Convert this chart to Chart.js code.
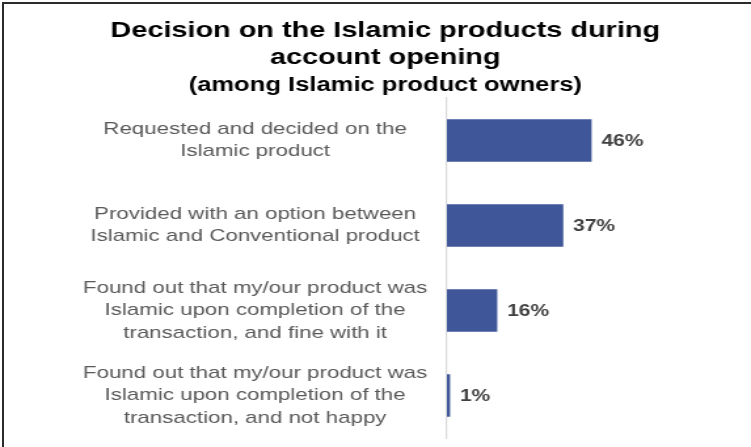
<!DOCTYPE html>
<html>
<head>
<meta charset="utf-8">
<script src="https://cdn.jsdelivr.net/npm/chart.js@4.4.0/dist/chart.umd.min.js"></script>
<style>
  body { margin: 0; background: #fff; overflow: hidden; }
  #wrap { position: relative; width: 751px; height: 447px; }
  /* o original está esticado na horizontal */
  #chart { position: absolute; left: 0; top: 0; transform: scaleX(1.3106); transform-origin: 0 0; }
  #frame { position: absolute; left: 2px; top: 2px; right: 0; bottom: 0;
           border-top: 2px solid #2b2b2b; border-left: 2px solid #2b2b2b; pointer-events: none; }
</style>
</head>
<body>
<div id="wrap">
  <canvas id="chart" width="573" height="447"></canvas>
  <div id="frame"></div>
</div>
<script>
// categorias (linhas quebradas como no original)
const categories = [
    ['Requested and decided on the', 'Islamic product'],
    ['Provided with an option between', 'Islamic and Conventional product'],
    ['Found out that my/our product was', 'Islamic upon completion of the', 'transaction, and fine with it'],
    ['Found out that my/our product was', 'Islamic upon completion of the', 'transaction, and not happy']
];
const shares = [46, 37, 16, 1];
const titleLines = ['Decision on the Islamic products during', 'account opening'];
const subtitleText = '(among Islamic product owners)';

const FONT = '"Liberation Sans", Arial, sans-serif';

// rótulos de valor ao lado das barras
const valueLabels = {
    id: 'valueLabels',
    afterDatasetsDraw(chart) {
        const ctx = chart.ctx;
        const meta = chart.getDatasetMeta(0);
        ctx.save();
        ctx.font = 'bold 16px ' + FONT;
        ctx.fillStyle = '#404040';
        ctx.textAlign = 'left';
        ctx.textBaseline = 'middle';
        meta.data.forEach((bar, i) => {
            ctx.fillText(shares[i] + '%', bar.x + 7.5, bar.y + 1);
        });
        ctx.restore();
    }
};

const ctx = document.getElementById('chart').getContext('2d');
new Chart(ctx, {
    type: 'bar',
    data: {
        labels: categories,
        datasets: [{
            data: shares,
            backgroundColor: '#3F5799',
            borderWidth: 0,
            barPercentage: 0.5,
            categoryPercentage: 1.0
        }]
    },
    options: {
        indexAxis: 'y',
        responsive: false,
        animation: false,
        layout: {
            padding: { left: 55, right: 40, top: 0, bottom: 9 }
        },
        scales: {
            x: {
                display: false,
                min: 0,
                max: 80
            },
            y: {
                afterFit(scale) {
                    scale.width = 286;
                    scale.paddingTop = 0;
                    scale.paddingBottom = 0;
                },
                grid: { display: false, drawTicks: false },
                border: { display: true, color: '#d9d9d9', width: 1.2 },
                ticks: {
                    crossAlign: 'center',
                    padding: 15,
                    color: '#595959',
                    font: { family: FONT, size: 17, lineHeight: 1.32 }
                }
            }
        },
        plugins: {
            legend: { display: false },
            tooltip: { enabled: false },
            title: {
                display: true,
                text: titleLines,
                color: '#000',
                padding: { top: 17.5, bottom: 0 },
                font: { family: FONT, size: 22, weight: 'bold', lineHeight: 1.23 }
            },
            subtitle: {
                display: true,
                text: subtitleText,
                color: '#000',
                padding: { top: 2, bottom: 0 },
                font: { family: FONT, size: 19.5, weight: 'bold', lineHeight: 1.25 }
            }
        }
    },
    plugins: [valueLabels]
});
</script>
</body>
</html>
